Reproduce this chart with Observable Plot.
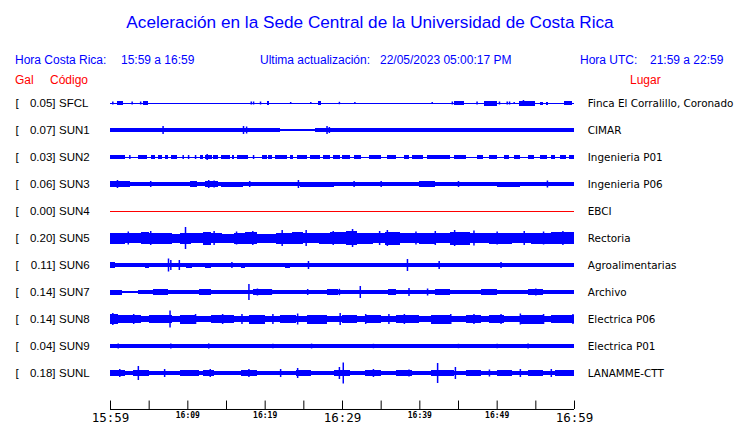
<!DOCTYPE html>
<html><head><meta charset="utf-8">
<script src="https://cdn.jsdelivr.net/npm/d3@7"></script>
<script src="https://cdn.jsdelivr.net/npm/@observablehq/plot@0.6"></script>
<style>
body{margin:0;background:#fff;}
#head{position:relative;width:740px;height:84px;font-family:"Liberation Sans",Arial,sans-serif;}
#head span{position:absolute;white-space:pre;line-height:14px;font-size:12px;}
#head .b{color:#0000ff}
#head .r{color:#ff0000}
#head #title{left:0;width:740px;text-align:center;top:10px;font-size:17.2px;line-height:24px;color:#0000ff}
#chart svg{display:block;overflow:visible}
</style></head>
<body>
<div id="head">
  <span id="title">Aceleración en la Sede Central de la Universidad de Costa Rica</span>
  <span class="b" style="left:15px;top:53px">Hora Costa Rica:</span>
  <span class="b" style="left:121px;top:53px">15:59 a 16:59</span>
  <span class="b" style="left:260px;top:53px">Ultima actualización:</span>
  <span class="b" style="left:380px;top:53px">22/05/2023 05:00:17 PM</span>
  <span class="b" style="left:580px;top:53px">Hora UTC:</span>
  <span class="b" style="left:650px;top:53px">21:59 a 22:59</span>
  <span class="r" style="left:15px;top:73px">Gal</span>
  <span class="r" style="left:50px;top:73px">Código</span>
  <span class="r" style="left:630px;top:73px">Lugar</span>
</div>
<div id="chart"></div>
<script>
// ---- station data ----
const codes  = ["SFCL","SUN1","SUN2","SUN3","SUN4","SUN5","SUN6","SUN7","SUN8","SUN9","SUNL"];
const galPeak = [0.05,0.07,0.03,0.06,0.00,0.20,0.11,0.14,0.14,0.04,0.18];
const places = ["Finca El Corralillo, Coronado","CIMAR","Ingenieria P01","Ingenieria P06","EBCI","Rectoria","Agroalimentarias","Archivo","Electrica P06","Electrica P01","LANAMME-CTT"];

// time axis (minutes after 15:59)
const tickMinutes = [0,5,10,15,20,25,30,35,40,45,50,55,60];
const bigLabelMinutes = [0,30,60];
const bigLabels = ["15:59","16:29","16:59"];
const smallLabelMinutes = [10,20,40,50];
const smallLabels = ["16:09","16:19","16:39","16:49"];

// trace envelopes: [startMin, endMin, halfAmplitude(px)]
const segSFCL = [[0,60,0.5],[0.9,1.7,2],[4.3,4.9,2],[20.3,20.6,1.8],[26.9,27.3,1.8],[44.5,45.8,2.2],[48.4,50.0,2.5],[52.9,55.0,2.5],[55.6,56.0,1.5],[56.4,56.7,1.5],[58.7,59.7,2]];
const segSUN1 = [[0,3.5,2.1],[3.5,5.5,1.7],[5.5,7.5,2.3],[7.5,17,1.9],[17,18.2,2.2],[18.2,22,1.7],[22,26.5,1.4],[26.5,28.5,1.7],[28.5,29.5,2.4],[29.5,36,1.9],[36,45,1.8],[45,50,2.0],[50,55,1.9],[55,60,2.2]];
const segSUN2 = [[0,60,0.5],[0,1.9,2],[3.6,4.8,2],[5.3,5.8,2],[6.2,6.7,2],[7.1,7.5,2],[7.9,8.7,2],[11.6,12.0,2],[12.3,13.2,2],[13.3,14.0,2],[14.4,15.5,2],[15.8,16.0,2],[16.4,17.8,2],[19.7,20.3,2],[20.4,20.9,2],[21.3,22.9,2],[23.3,23.7,2],[24.2,25.5,2],[25.9,27.2,2],[27.5,28.4,2],[28.8,29.7,2],[30,31,2],[31.5,32.5,2],[33.5,35,2],[35.8,37,2],[38,38.6,2],[39,40.5,2],[41,44,2],[44.5,46,2],[47.5,48.2,2],[49,50,2],[51,51.6,2],[52.3,53,2],[54,54.8,2],[55.6,56.5,2],[57,57.6,2],[58.2,59,2],[59.4,60,2]];
const segSUN3 = [[0,60,1.7],[0,2.6,2.6],[3,8.7,2.3],[10.3,11.3,2.6],[12.3,14,3],[14.3,17.2,2.5],[19.4,20.3,2.4],[24.6,29,2.5],[30.5,33,2.4],[36,38,2.3],[40,42,2.6],[44,47,2.4],[50,53,2.5],[55,58,2.4]];
const segSUN4 = [[0,60,0.5]];
const segSUN5 = [[0,2,5.5],[2,4,5],[4,5,6],[5,8,5.5],[8,9,4.5],[9,10.5,5.5],[10.5,12,5],[12,13,6.5],[13,14.5,5],[14.5,16,4.5],[16,17.5,5.5],[17.5,19,6],[19,21.5,4.5],[21.5,23.5,5.5],[23.5,25,6],[25,27,5],[27,28.5,5.5],[28.5,30.5,6],[30.5,32,7],[32,34,5.5],[34,35.5,5],[35.5,37.5,6.5],[37.5,40,5],[40,42,5.5],[42,44,5],[44,46.5,6.5],[46.5,49,5],[49,52,5.5],[52,54.5,5],[54.5,57,5.5],[57,60,6]];
const segSUN6 = [[0,60,1.6],[0,0.7,2.6],[1.5,3.5,2.1],[4.5,5,2.5],[9.8,10.6,2.5],[12.3,13,2.5],[17,17.5,2.5],[20.3,20.8,2.4],[22.6,23.3,2.5],[26.5,29.8,2.3],[33,35,2.2],[38,41,2.3],[44,46,2.2],[50,53,2.2],[56,59,2.2]];
const segSUN7 = [[0,1.5,2.5],[1.5,3.6,1.3],[3.6,60,2.2],[5.5,7.5,2.8],[11.5,13,2.7],[18.5,21,2.6],[28,29.5,2.6],[36,37,2.6],[42,44,2.6],[48,50,2.6],[54,56,2.6]];
const segSUN8 = [[0,60,3.3],[0,1,5],[1,4,4],[5,8,4.2],[9,11,4.5],[13,16,4.3],[18,20,4.5],[22,24,4],[25.5,28,4.5],[30,32,4],[33,35,4.3],[37,40,4.2],[41.5,44,4.5],[46,48,4],[49,51,4.2],[53,56,4.5],[57,60,4.3]];
const segSUN9 = [[0,60,1.6],[0,1.2,2]];
const segSUNL = [[0,60,2.2],[0,2,3],[3,5,2.8],[9,11.5,2.8],[12,13.5,3.2],[17,19,3],[24,26,3],[29,31,3],[33,35,3],[37,39,2.8],[41.5,44.5,3.2],[46,48,3],[50,52,2.8],[54,56,3],[57.5,60,3]];

// isolated spikes: [minute, halfAmplitude(px)]
const spkSFCL = [[0.3,1.5],[2.8,1.5],[3.9,1.5],[18.2,1.5],[18.5,1.5],[19.4,1.5],[23.3,1],[25.9,1],[29.6,1.2],[31.6,1],[41.6,1],[44.2,1.5],[47.4,1.5],[50.3,1.5],[51.3,1.5],[51.6,1.5],[52.2,1],[53.4,3]];
const spkSUN1 = [[6.8,4],[17.2,4],[17.6,3.5],[28.0,4],[28.3,3]];
const spkSUN2 = [[2.5,2],[9.4,2],[10.1,2],[11.0,2],[12.5,3],[18.5,2]];
const spkSUN3 = [[0.9,4],[5.2,3],[12.7,4],[13.4,3.5],[18,3],[24.3,4],[31.5,3],[35,3],[45,3],[56.5,3.5]];
const spkSUN4 = [];
const spkSUN5 = [[2.3,6.5],[5.2,7],[9.7,11],[13.4,7],[16.3,6.5],[18.4,7],[22.2,8],[25.3,8],[28.8,7],[31.3,9],[34.8,7],[35.8,8],[39.5,6.5],[42,7],[44.5,8],[47,7.5],[50,6.5],[53.5,7],[56,6.5],[58.5,7]];
const spkSUN6 = [[7.5,6.5],[7.8,5],[8.9,5],[15.7,3],[25.6,4],[38.4,6],[42.5,4],[50.5,3]];
const spkSUN7 = [[17.9,8],[19,3.5],[20.8,3],[25.5,3],[29.6,3.2],[32.3,6],[38.6,4],[41,3.5],[55,3.5]];
const spkSUN8 = [[0.3,6],[3,5],[7.7,8.5],[11,5],[14.5,5],[17,5],[21,5],[24.2,5.5],[29.7,6],[33,5],[36,5],[38,5],[44,5],[47,5],[50.5,5],[53,5.5],[56,5],[59.8,5]];
const spkSUN9 = [[1,2.6],[7.8,2.6],[12.7,2.6],[21,2.2],[26,2.4],[34,2.2],[45,2.2],[50,2.2],[54,2.4]];
const spkSUNL = [[1.2,4],[3.6,7],[7,4],[12.9,4],[17.9,4],[22,4],[24.2,5],[29.6,6],[30.1,10.5],[34,4],[38.6,3.5],[42.3,10],[44.6,6],[49,3.5],[53,4],[57,4]];

const segLists = [segSFCL,segSUN1,segSUN2,segSUN3,segSUN4,segSUN5,segSUN6,segSUN7,segSUN8,segSUN9,segSUNL];
const spkLists = [spkSFCL,spkSUN1,spkSUN2,spkSUN3,spkSUN4,spkSUN5,spkSUN6,spkSUN7,spkSUN8,spkSUN9,spkSUNL];

// ---- build tables ----
const ROW_PX = 27; // pixels between trace baselines (amplitudes above are in px)
const rows = codes.map((c, i) => ({i, code: c, gal: galPeak[i], place: places[i]}));
const segs = [];
segLists.forEach((l, i) => l.forEach(([t0, t1, a]) => segs.push({i, t0, t1, y1: i - a / ROW_PX, y2: i + a / ROW_PX})));
const spikes = [];
spkLists.forEach((l, i) => l.forEach(([t, a]) => spikes.push({i, t, y1: i - a / ROW_PX, y2: i + a / ROW_PX})));
const colorOf = d => galPeak[d.i] === 0 ? "#ff0000" : "#0000ff";

const AXIS_ROW = 11.333, TICK_TOP = 11.02, LABEL_ROW = 11.45;
const fmt = d3.format(".2f");

const chart = Plot.plot({
  width: 740, height: 339,
  marginLeft: 110, marginRight: 166, marginTop: 5.5, marginBottom: 9.5,
  x: {domain: [0, 60], axis: null},
  y: {domain: [-0.5, 11.5], reverse: true, axis: null},
  style: {background: "white"},
  marks: [
    Plot.rect(segs, {x1: "t0", x2: "t1", y1: "y1", y2: "y2", fill: colorOf, shapeRendering: "crispEdges"}),
    Plot.ruleX(spikes, {x: "t", y1: "y1", y2: "y2", stroke: colorOf, strokeWidth: 1.5}),
    // left labels
    Plot.text(rows, {y: "i", text: () => "[", frameAnchor: "left", dx: -95, textAnchor: "start", lineAnchor: "middle", fontFamily: "Liberation Sans", fontSize: 11.5, fill: "black"}),
    Plot.text(rows, {y: "i", text: d => fmt(d.gal) + "]", frameAnchor: "left", dx: -55, textAnchor: "end", lineAnchor: "middle", fontFamily: "Liberation Sans", fontSize: 11.5, fill: "black"}),
    Plot.text(rows, {y: "i", text: "code", frameAnchor: "left", dx: -51.5, textAnchor: "start", lineAnchor: "middle", fontFamily: "Liberation Sans", fontSize: 11.5, fill: "black"}),
    // right labels
    Plot.text(rows, {y: "i", text: "place", frameAnchor: "right", dx: 13.3, textAnchor: "start", lineAnchor: "middle", fontFamily: "DejaVu Sans", fontSize: 10.4, fill: "black"}),
    // time axis
    Plot.ruleY([AXIS_ROW], {x1: 0, x2: 60, stroke: "black", strokeWidth: 1}),
    Plot.ruleX(tickMinutes, {x: d => d, y1: TICK_TOP, y2: AXIS_ROW, stroke: "black", strokeWidth: 1}),
    Plot.text(bigLabelMinutes, {x: d => d, y: LABEL_ROW, text: (d, i) => bigLabels[i], lineAnchor: "top", fontFamily: "DejaVu Sans Mono", fontSize: 12.5, fill: "black"}),
    Plot.text(smallLabelMinutes, {x: d => d, y: LABEL_ROW, text: (d, i) => smallLabels[i], lineAnchor: "top", fontFamily: "DejaVu Sans Mono", fontWeight: "bold", fontSize: 8, fill: "black"})
  ]
});
document.getElementById("chart").appendChild(chart);
</script>
</body></html>
